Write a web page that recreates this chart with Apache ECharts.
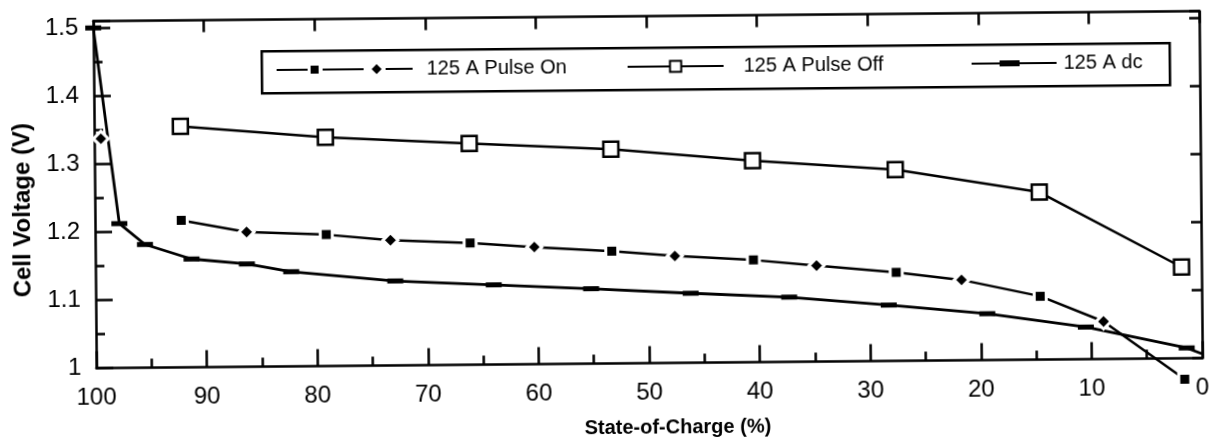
<!DOCTYPE html>
<html><head><meta charset="utf-8">
<script src="https://cdn.jsdelivr.net/npm/echarts@6/dist/echarts.min.js"></script>
<style>
html,body{margin:0;padding:0;background:#fff;overflow:hidden}
#main{width:1213px;height:440px;transform:rotate(-0.52deg);transform-origin:606.5px 220px}
</style>
</head><body><div id="main"></div>
<script>
// ---- data ----
const pulseOnSoc = [99.4, 92.2, 86.3, 79.1, 73.3, 66.1, 60.3, 53.3, 47.6, 40.5, 34.8, 27.6, 21.7, 14.6, 8.9, 1.6];
const pulseOnV   = [1.337, 1.216, 1.198, 1.193, 1.184, 1.179, 1.172, 1.165, 1.157, 1.150, 1.141, 1.130, 1.118, 1.093, 1.055, 0.969];
const pulseOffSoc = [92.2, 79.1, 66.1, 53.3, 40.5, 27.6, 14.6, 1.8];
const pulseOffV   = [1.354, 1.336, 1.325, 1.315, 1.296, 1.281, 1.246, 1.134];
const dcSoc = [100, 97.8, 95.5, 91.3, 86.3, 82.3, 72.9, 64.0, 55.2, 46.2, 37.3, 28.3, 19.4, 10.5, 1.4, 0];
const dcV   = [1.5, 1.212, 1.181, 1.159, 1.151, 1.139, 1.124, 1.117, 1.110, 1.102, 1.095, 1.082, 1.068, 1.047, 1.015, 1.006];
const xTickLabels = ['100','90','80','70','60','50','40','30','20','10','0'];
const yTickLabels = ['1','1.1','1.2','1.3','1.4','1.5'];
const seriesNames = ['125 A Pulse On', '125 A Pulse Off', '125 A dc'];

// ---- build series data ----
const pulseOnData = [];
pulseOnSoc.forEach((s, i) => {
  const isDiamond = i % 2 === 0;
  pulseOnData.push({value: [s, pulseOnV[i]], symbol: isDiamond ? 'diamond' : 'rect', symbolSize: isDiamond ? 15 : 12});
  if (i === 0) pulseOnData.push({value: ['-', '-']}); // isolated first reading
});
const pulseOffData = pulseOffSoc.map((s, i) => [s, pulseOffV[i]]);
const dcData = dcSoc.map((s, i) => (i === dcSoc.length - 1 ? {value: [s, dcV[i]], symbol: 'none'} : [s, dcV[i]]));

const black = '#000';
const font = 'Liberation Sans, Arial, Helvetica, sans-serif';
const lineW = 2.5;
const yFmt = v => { const s = String(+(+v).toFixed(2)); return yTickLabels.includes(s) ? s : ''; };
const xFmt = v => { const s = String(+(+v).toFixed(0)); return xTickLabels.includes(s) ? s : ''; };
const axLine = () => ({show: true, onZero: false, lineStyle: {color: black, width: lineW}});
const tick = (len) => ({show: true, inside: true, length: len, lineStyle: {color: black, width: lineW}});

const chart = echarts.init(document.getElementById('main'));
chart.setOption({
  backgroundColor: '#fff',
  animation: false,
  grid: {left: 95, right: 12, top: 16.5, bottom: 76.6, containLabel: false, outerBoundsMode: 'none'},
  xAxis: [
    {
      type: 'value', inverse: true, min: 0, max: 100, interval: 10, position: 'bottom',
      axisLine: axLine(), axisTick: tick(17),
      minorTick: {show: true, splitNumber: 2, length: 9, lineStyle: {color: black, width: lineW}},
      axisLabel: {margin: 18, fontSize: 24, color: black, fontFamily: font, formatter: xFmt},
      splitLine: {show: false},
      name: 'State-of-Charge (%)', nameLocation: 'middle', nameGap: 55,
      nameTextStyle: {fontSize: 20, fontWeight: 'bold', color: black, fontFamily: font, padding: [0, 0, 0, 56]}
    },
    {
      type: 'value', inverse: true, min: 0, max: 100, interval: 10, position: 'top',
      axisLine: axLine(), axisTick: tick(12),
      axisLabel: {show: false}, splitLine: {show: false}
    }
  ],
  yAxis: [
    {
      type: 'value', min: 1, max: 1.51, interval: 0.1, position: 'left',
      axisLine: axLine(), axisTick: tick(17),
      axisLabel: {margin: 15, fontSize: 24, color: black, fontFamily: font, formatter: yFmt},
      splitLine: {show: false},
      name: 'Cell Voltage (V)', nameLocation: 'middle', nameGap: 56,
      nameTextStyle: {fontSize: 24, fontWeight: 'bold', color: black, fontFamily: font, padding: [0, 30, 0, 0]}
    },
    {
      type: 'value', min: 1, max: 1.51, interval: 0.05, position: 'left',
      axisLine: {show: false, onZero: false}, axisTick: tick(9),
      axisLabel: {show: false}, splitLine: {show: false}
    },
    {
      type: 'value', min: 1, max: 1.51, interval: 0.1, position: 'right',
      axisLine: axLine(), axisTick: tick(10),
      axisLabel: {show: false}, splitLine: {show: false}
    }
  ],
  graphic: [{
    type: 'rect', left: 262, top: 47, z: 3,
    shape: {width: 908, height: 42},
    style: {fill: '#fff', stroke: black, lineWidth: 2.5}
  }],
  legend: [
    {
      data: [{name: seriesNames[0], icon: 'path://M0,4L31,4L31,6L0,6Z M34,1L42,1L42,9L34,9Z M46,4L87,4L87,6L46,6Z M100,0L105,5L100,10L95,5Z M109,4L136,4L136,6L109,6Z'}],
      left: 278, top: 57, padding: 0, itemWidth: 136, itemHeight: 10, selectedMode: false, z: 10,
      itemStyle: {color: black, borderWidth: 0},
      textStyle: {fontSize: 20, color: black, fontFamily: font, padding: [0, 0, 0, 9]}
    },
    {
      data: [seriesNames[1]],
      left: 628, top: 57, padding: 0, itemWidth: 96, itemHeight: 14, selectedMode: false, z: 10,
      textStyle: {fontSize: 20, color: black, fontFamily: font, padding: [0, 0, 0, 15]}
    },
    {
      data: [{name: seriesNames[2], icon: 'path://M0,2L85,2L85,4L0,4Z M28,0L48,0L48,6L28,6Z'}],
      left: 973, top: 57, padding: 0, itemWidth: 85, itemHeight: 6, selectedMode: false, z: 10,
      itemStyle: {color: black, borderWidth: 0},
      textStyle: {fontSize: 20, color: black, fontFamily: font, padding: [0, 0, 0, 2]}
    }
  ],
  series: [
    {
      name: seriesNames[2], type: 'line', xAxisIndex: 0, yAxisIndex: 0, clip: false, z: 2,
      data: dcData, symbol: 'rect', symbolSize: [16, 5],
      lineStyle: {color: black, width: 2.8}, itemStyle: {color: black}
    },
    {
      name: seriesNames[1], type: 'line', xAxisIndex: 0, yAxisIndex: 0, clip: false, z: 3,
      data: pulseOffData, symbol: 'rect', symbolSize: 15,
      lineStyle: {color: black, width: 2.5}, itemStyle: {color: '#fff', borderColor: black, borderWidth: 2.5}
    },
    {
      name: seriesNames[0], type: 'line', xAxisIndex: 0, yAxisIndex: 0, clip: false, z: 4,
      data: pulseOnData, connectNulls: false,
      lineStyle: {color: black, width: 2.5}, itemStyle: {color: black, borderColor: '#fff', borderWidth: 3}
    }
  ]
});
</script>
</body></html>
